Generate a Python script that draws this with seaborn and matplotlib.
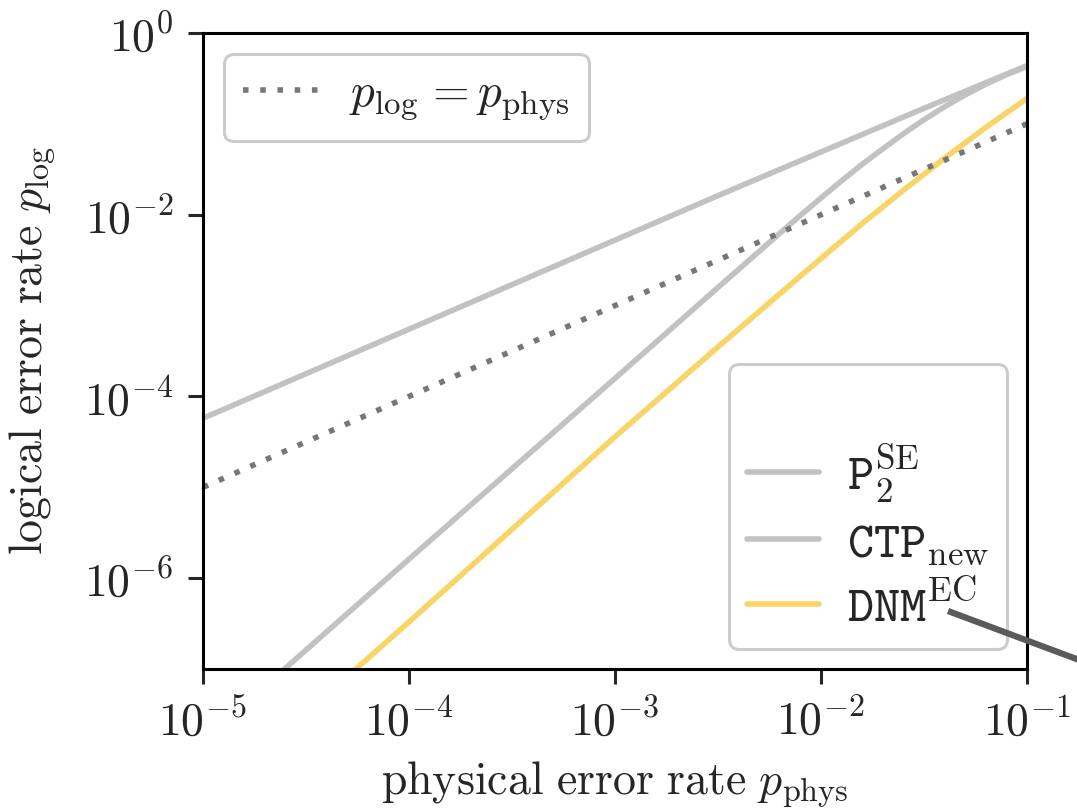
import numpy as np
import pandas as pd
import matplotlib
matplotlib.use("Agg")
import matplotlib.pyplot as plt
import seaborn as sns
from matplotlib.lines import Line2D

# ---- data ----
p2_x = [1e-5, 1e-4, 1e-3, 3.16e-3, 1e-2, 3.16e-2, 1e-1]
p2_y = [5.75e-5, 5.5e-4, 5.25e-3, 1.62e-2, 4.9e-2, 0.148, 0.437]

ctp_x = [1e-5, 1e-4, 1e-3, 3.16e-3, 6.31e-3, 7.94e-3, 1e-2, 1.26e-2, 1.58e-2, 2.0e-2,
         2.51e-2, 3.16e-2, 3.98e-2, 5.01e-2, 6.31e-2, 7.94e-2, 1e-1]
ctp_y = [1.62e-8, 1.62e-6, 1.58e-4, 1.58e-3, 6.24e-3, 9.8e-3, 1.53e-2, 2.36e-2, 3.57e-2, 5.32e-2,
         7.76e-2, 0.1107, 0.154, 0.208, 0.273, 0.347, 0.427]

dnm_x = [1e-5, 1e-4, 1e-3, 3.16e-3, 1e-2, 1.58e-2, 2.51e-2, 3.98e-2, 6.31e-2, 1e-1]
dnm_y = [3.2e-9, 3.3e-7, 3.6e-5, 3.5e-4, 3.3e-3, 7.94e-3, 1.85e-2, 4.19e-2, 9.12e-2, 0.19]

ident_x = [1e-5, 1e-1]
ident_y = [1e-5, 1e-1]

labels = [r"$\mathtt{P}_{2}^{\mathrm{SE}}$", r"$\mathtt{CTP}_{\mathrm{new}}$", r"$\mathtt{DNM}^{\mathrm{EC}}$"]
colors = ["#c2c2c2", "#c2c2c2", "#f8d566"]
ident_label = r"$p_{\log} = p_{\mathrm{phys}}$"
xticks = [1e-5, 1e-4, 1e-3, 1e-2, 1e-1]
yticks = [1e-6, 1e-4, 1e-2, 1e0]

sns.set_style("ticks")
plt.rcParams["font.family"] = "serif"
plt.rcParams["font.serif"] = ["cmr10", "DejaVu Serif"]
plt.rcParams["mathtext.fontset"] = "cm"
plt.rcParams["axes.formatter.use_mathtext"] = True

fig = plt.figure(figsize=(10.77, 8.10), dpi=100)
ax = fig.add_axes([0.1885, 0.174, 0.765, 0.7853])

df = pd.concat([
    pd.DataFrame({"x": p2_x, "y": p2_y, "s": labels[0]}),
    pd.DataFrame({"x": ctp_x, "y": ctp_y, "s": labels[1]}),
    pd.DataFrame({"x": dnm_x, "y": dnm_y, "s": labels[2]}),
])
pal = dict(zip(labels, colors))
sns.lineplot(data=df, x="x", y="y", hue="s", palette=pal, lw=4.0,
             ax=ax, legend=False, sort=False, estimator=None)
ident = pd.DataFrame({"x": ident_x, "y": ident_y})
sns.lineplot(data=ident, x="x", y="y", ax=ax, color="#777777", lw=4.0,
             dashes=False, legend=False)
ax.lines[-1].set_dashes([1, 2.1])
ax.lines[-1].set_dash_capstyle("butt")

ax.set_xscale("log")
ax.set_yscale("log")
ax.set_xlim(1e-5, 1e-1)
ax.set_ylim(1e-7, 1e0)
ax.set_xticks(xticks)
ax.set_yticks(yticks)
ax.minorticks_off()
ax.tick_params(axis="both", labelsize=33, length=11, width=2.2, pad=10, direction="out")
for sp in ax.spines.values():
    sp.set_linewidth(2.2)
    sp.set_color("black")

ax.set_xlabel(r"$\mathrm{physical\ error\ rate}\ p_{\mathrm{phys}}$", fontsize=33, labelpad=10)
ax.set_ylabel(r"$\mathrm{logical\ error\ rate}\ p_{\log}$", fontsize=33, labelpad=19)

# legends
h_id = Line2D([], [], color="#777777", lw=4.0, dashes=[1, 2.1], dash_capstyle="butt")
leg1 = ax.legend([h_id], [ident_label], loc="upper left", fontsize=34,
                 handlelength=1.65, handletextpad=0.6, frameon=True, fancybox=True,
                 framealpha=1.0, edgecolor="#cccccc", borderaxespad=0.45, borderpad=0.4)
leg1.get_frame().set_linewidth(2.2)
ax.add_artist(leg1)

blank = Line2D([], [], color="none")
hs = [blank] + [Line2D([], [], color=c, lw=4.0) for c in colors]
leg2 = ax.legend(hs, [" "] + labels, loc="lower right", fontsize=36,
                 handlelength=1.45, handletextpad=0.55, frameon=True, fancybox=True,
                 framealpha=1.0, edgecolor="#cccccc", borderaxespad=0.4, labelspacing=0.3,
                 borderpad=0.35)
leg2.get_frame().set_linewidth(2.2)

# pointer line leaving the legend
fig.add_artist(Line2D([948 / 1077, 1130 / 1077], [1 - 611 / 810, 1 - 679 / 810],
                      transform=fig.transFigure, color="#5a5a5a", lw=4.5,
                      solid_capstyle="butt"))

fig.savefig("out.png", dpi=100)
